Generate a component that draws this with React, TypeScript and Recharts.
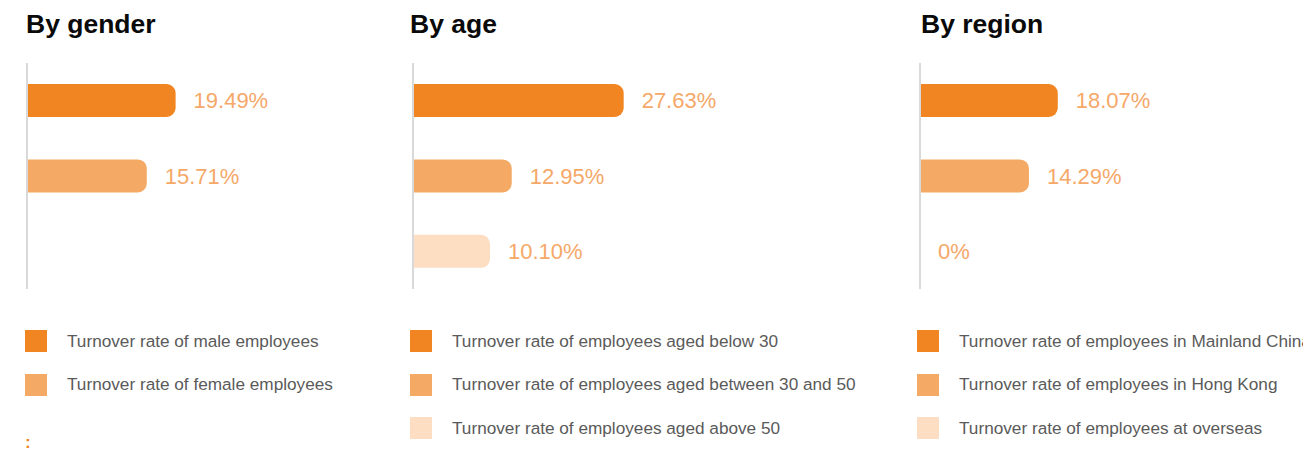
import { BarChart, Bar, XAxis, YAxis, Cell, LabelList } from "recharts"

const genderLabels = ["Turnover rate of male employees", "Turnover rate of female employees"]
const genderValues = [19.49, 15.71]

const ageLabels = [
  "Turnover rate of employees aged below 30",
  "Turnover rate of employees aged between 30 and 50",
  "Turnover rate of employees aged above 50",
]
const ageValues = [27.63, 12.95, 10.1]

const regionLabels = [
  "Turnover rate of employees in Mainland China",
  "Turnover rate of employees in Hong Kong",
  "Turnover rate of employees at overseas",
]
const regionValues = [18.07, 14.29, 0]

const valueTexts = {
  gender: ["19.49%", "15.71%"],
  age: ["27.63%", "12.95%", "10.10%"],
  region: ["18.07%", "14.29%", "0%"],
}

const COLORS = ["#F08522", "#F4AA64", "#FDDEC2"]
const LABEL_COLOR = "#F5A868"
const FONT = "'Liberation Sans', Arial, Helvetica, sans-serif"

const BAND = 75.4
const PLOT_TOP = 63

function Panel({ x, titleX, legendX, title, labels, values, texts }) {
  const data = values.map((v, i) => ({ name: labels[i], value: v, text: texts[i] }))
  const missing = 3 - data.length
  return (
    <>
      <div
        style={{
          position: "absolute",
          left: titleX,
          top: 9,
          fontFamily: FONT,
          fontWeight: 700,
          fontSize: 26.5,
          lineHeight: "30px",
          color: "#0a0a0a",
        }}
      >
        {title}
      </div>
      <div style={{ position: "absolute", left: x - 2, top: PLOT_TOP }}>
        <BarChart
          width={390}
          height={BAND * 3}
          data={data}
          layout="vertical"
          margin={{ top: 0, right: 83, bottom: 0, left: 0 }}
        >
          <XAxis type="number" domain={[0, 40]} hide />
          <YAxis
            type="category"
            dataKey="name"
            width={2}
            tick={false}
            tickLine={false}
            axisLine={{ stroke: "#d9d9d9", strokeWidth: 2 }}
            padding={{ top: 0, bottom: missing * BAND }}
          />
          <Bar
            dataKey="value"
            barSize={33}
            radius={[0, 9, 9, 0]}
            minPointSize={0.01}
            isAnimationActive={false}
          >
            {data.map((d, i) => (
              <Cell key={d.name} fill={COLORS[i]} />
            ))}
            <LabelList
              dataKey="text"
              position="right"
              offset={18}
              fill={LABEL_COLOR}
              fontSize={22}
              fontFamily={FONT}
            />
          </Bar>
        </BarChart>
      </div>
      {labels.map((l, i) => (
        <div
          key={l}
          style={{
            position: "absolute",
            left: legendX,
            top: 330 + i * 43.7,
            height: 22,
            display: "flex",
            alignItems: "center",
            whiteSpace: "nowrap",
            fontFamily: FONT,
            fontSize: 17.2,
            color: "#5a5a5a",
          }}
        >
          <span style={{ display: "inline-block", width: 22, height: 22, background: COLORS[i], marginRight: 20 }} />
          {l}
        </div>
      ))}
    </>
  )
}

export default function App() {
  return (
    <div
      style={{
        position: "fixed",
        left: 0,
        top: 0,
        width: 1303,
        height: 454,
        overflow: "hidden",
        background: "#fff",
      }}
    >
      <Panel x={27} titleX={26} legendX={25} title="By gender" labels={genderLabels} values={genderValues} texts={valueTexts.gender} />
      <Panel x={413} titleX={410} legendX={410} title="By age" labels={ageLabels} values={ageValues} texts={valueTexts.age} />
      <Panel x={920} titleX={921} legendX={917} title="By region" labels={regionLabels} values={regionValues} texts={valueTexts.region} />
      <div
        style={{
          position: "absolute",
          left: 25,
          top: 433,
          fontFamily: FONT,
          fontWeight: 700,
          fontSize: 17,
          color: COLORS[0],
        }}
      >
        :
      </div>
    </div>
  )
}
